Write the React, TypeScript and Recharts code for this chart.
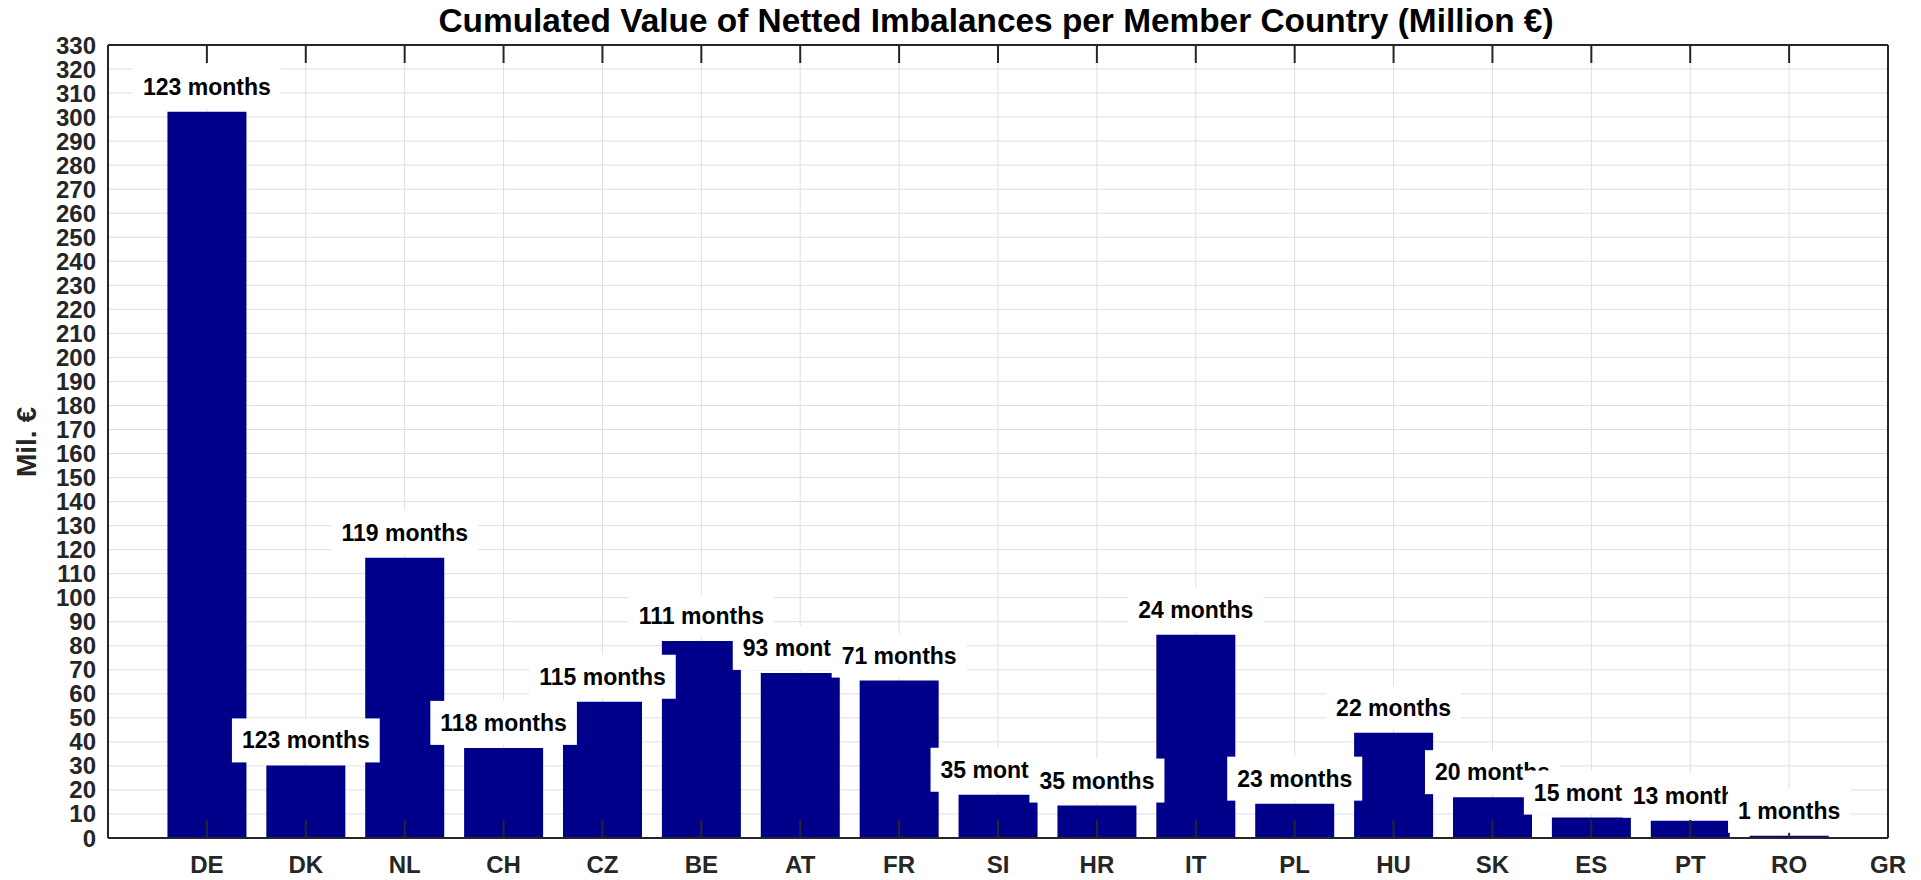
import { BarChart, Bar, XAxis, YAxis, CartesianGrid, LabelList } from "recharts";

const FONTE = "'Liberation Sans', Arial, Helvetica, sans-serif";

const paises = ["DE", "DK", "NL", "CH", "CZ", "BE", "AT", "FR", "SI", "HR", "IT", "PL", "HU", "SK", "ES", "PT", "RO", "GR"];
const valores = [302.2, 30.2, 116.6, 37.5, 56.7, 82.0, 68.7, 65.5, 18.0, 13.5, 84.6, 14.3, 43.8, 17.0, 8.5, 7.2, 0.9, 0];
const meses = [123, 123, 119, 118, 115, 111, 93, 71, 35, 35, 24, 23, 22, 20, 15, 13, 1, null];
const yTicks = Array.from({ length: 34 }, (_, i) => i * 10);
const xTicks = paises.map((_, i) => i + 1);

const dados = paises.map((nome, i) => ({ pos: i + 1, nome, valor: valores[i], meses: meses[i] }));

const tickTexto = { fontSize: 24, fontWeight: "bold", fill: "#262626", fontFamily: FONTE };
const linha = { stroke: "#262626", strokeWidth: 2 };

// tick sem texto, so para desenhar os tracinhos para dentro
const SemTexto = () => <g />;

let ctx: CanvasRenderingContext2D | null = null;
function larguraTexto(txt: string) {
  if (!ctx) ctx = document.createElement("canvas").getContext("2d");
  if (!ctx) return txt.length * 12.8;
  ctx.font = `bold 23px ${FONTE}`;
  return ctx.measureText(txt).width;
}

// caixa branca com o texto, igual ao "BackgroundColor" do matlab
function Rotulo(props: any) {
  const { value } = props;
  if (value == null) return null;
  const vb = props.viewBox || props;
  const x = props.x ?? vb.x;
  const y = props.y ?? vb.y;
  const width = props.width ?? vb.width;
  const txt = `${value} months`;
  const w = larguraTexto(txt) + 20;
  const cx = x + width / 2;
  const cy = y - 25;
  return (
    <g>
      <rect x={cx - w / 2} y={cy - 22} width={w} height={44} fill="#ffffff" />
      <text x={cx} y={cy + 8} textAnchor="middle" fontSize={23} fontWeight="bold" fill="#000" fontFamily={FONTE}>
        {txt}
      </text>
    </g>
  );
}

export default function App() {
  return (
    <div style={{ position: "absolute", left: 0, top: 0, width: 1921, height: 880, background: "#fff", fontFamily: FONTE }}>
      <div
        style={{
          position: "absolute",
          left: 996 - 700,
          top: 4,
          width: 1400,
          textAlign: "center",
          fontSize: 33.4,
          lineHeight: "33px",
          fontWeight: "bold",
          color: "#000",
        }}
      >
        Cumulated Value of Netted Imbalances per Member Country (Million €)
      </div>
      <div
        style={{
          position: "absolute",
          left: 27 - 100,
          top: 442 - 20,
          width: 200,
          height: 40,
          lineHeight: "40px",
          textAlign: "center",
          fontSize: 28,
          fontWeight: "bold",
          color: "#262626",
          transform: "rotate(-90deg)",
        }}
      >
        Mil. €
      </div>
      <BarChart width={1921} height={880} data={dados} margin={{ top: 45, right: 33, bottom: 0, left: 0 }}>
        <CartesianGrid xAxisId="main" yAxisId="main" stroke="#dfdfdf" strokeWidth={1} />
        <Bar xAxisId="main" yAxisId="main" dataKey="valor" fill="#00008b" barSize={79} isAnimationActive={false}>
          <LabelList dataKey="meses" content={Rotulo} />
        </Bar>
        <XAxis
          xAxisId="main"
          type="number"
          dataKey="pos"
          domain={[0, 18]}
          ticks={xTicks}
          interval={0}
          tickFormatter={(v: number) => paises[v - 1] ?? ""}
          height={42}
          tickLine={false}
          tickSize={0}
          tickMargin={18}
          axisLine={linha}
          tick={tickTexto}
        />
        <XAxis xAxisId="baixo" type="number" dataKey="pos" domain={[0, 18]} ticks={xTicks} interval={0} orientation="bottom" mirror height={1} tick={SemTexto} tickSize={18} tickLine={linha} axisLine={false} />
        <XAxis xAxisId="topo" type="number" dataKey="pos" domain={[0, 18]} ticks={xTicks} interval={0} orientation="top" mirror height={1} tick={SemTexto} tickSize={18} tickLine={linha} axisLine={linha} />
        <YAxis
          yAxisId="main"
          domain={[0, 330]}
          ticks={yTicks}
          interval={0}
          width={108}
          tickLine={false}
          tickSize={0}
          tickMargin={12}
          axisLine={linha}
          tick={tickTexto}
        />
        <YAxis yAxisId="esq" domain={[0, 330]} ticks={yTicks} interval={0} orientation="left" mirror width={1} tick={SemTexto} tickSize={18} tickLine={linha} axisLine={false} />
        <YAxis yAxisId="dir" domain={[0, 330]} ticks={yTicks} interval={0} orientation="right" mirror width={1} tick={SemTexto} tickSize={18} tickLine={linha} axisLine={linha} />
      </BarChart>
    </div>
  );
}
